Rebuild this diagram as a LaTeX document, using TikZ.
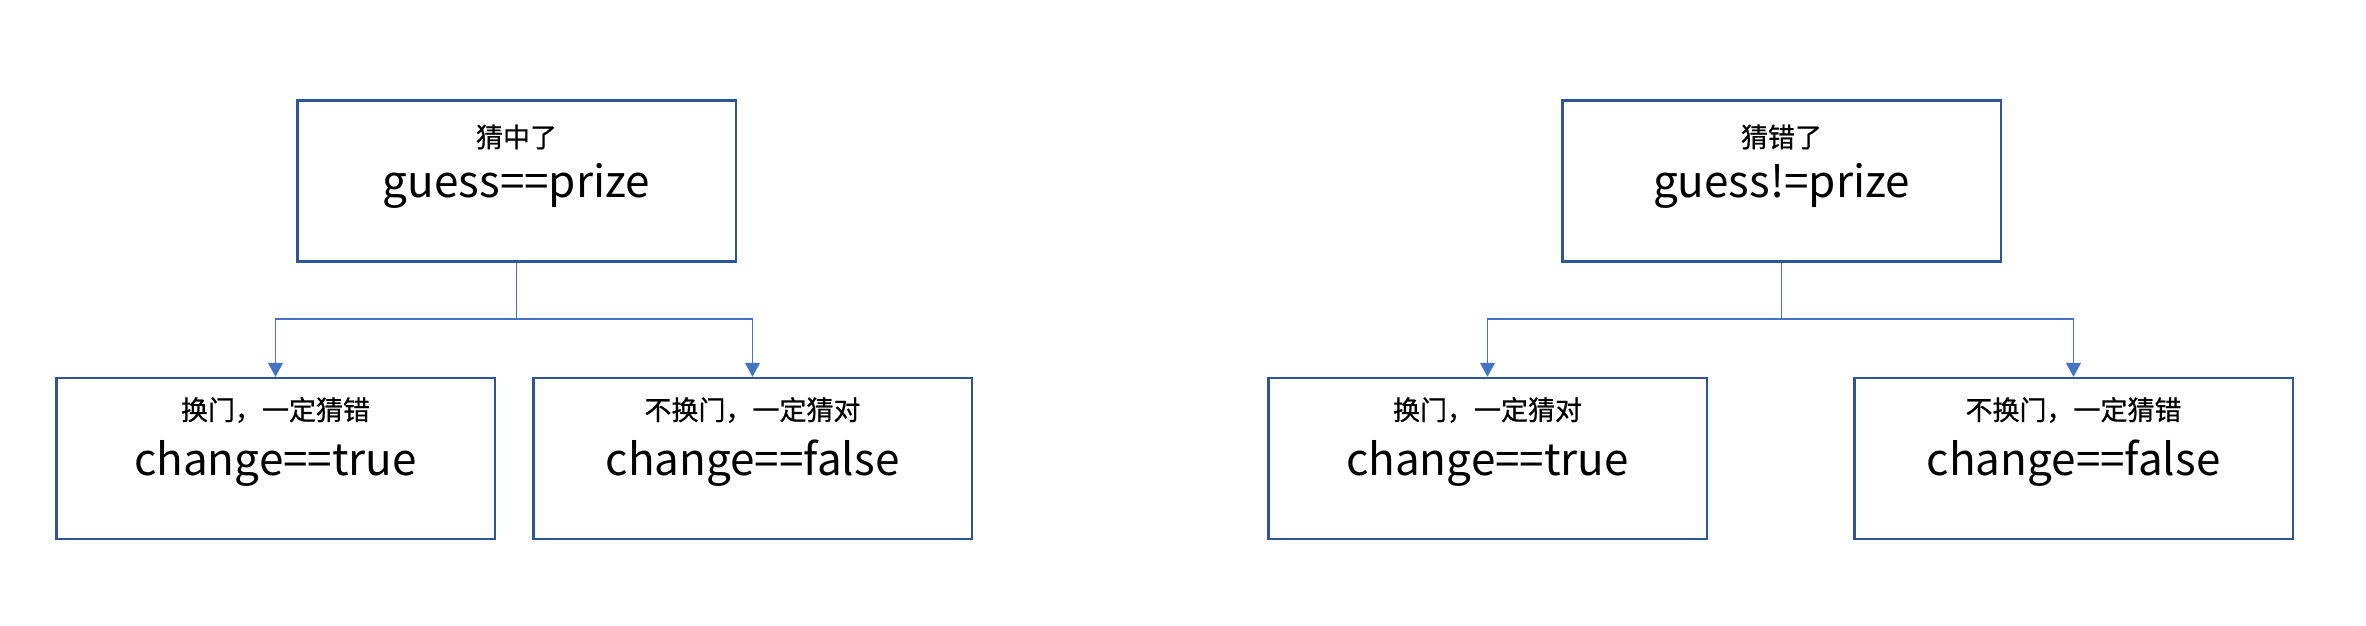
\documentclass[tikz,border=0pt]{standalone}
\usepackage{fontspec}
\setmainfont{Noto Sans CJK SC}
\newfontfamily\cjkb[FakeBold=0.6]{Noto Sans CJK SC}
\usetikzlibrary{arrows.meta}
\definecolor{boxblue}{HTML}{2F5597}
\definecolor{lineblue}{HTML}{4472C4}
\tikzset{
  stepbox/.style={draw=boxblue, line width=2.5pt, minimum width=438.5pt, minimum height=161pt, inner sep=0pt, fill=white},
  cntxt/.style={font=\cjkb\fontsize{27}{30}\selectfont, inner sep=0pt, anchor=center},
  lattxt/.style={font=\fontsize{44}{50}\selectfont, inner sep=0pt, anchor=base},
  conn/.style={draw=lineblue, line width=1.1pt},
  arr/.style={conn, -{Triangle[width=15pt,length=14pt]}}
}
\begin{document}
\begin{tikzpicture}[x=1pt,y=-1pt]
\useasboundingbox (0,0) rectangle (2366,625);
% boxes
\node[stepbox] (tl) at (516.5,181) {};
\node[stepbox] (bl1) at (275.5,458.5) {};
\node[stepbox] (bl2) at (752.5,458.5) {};
\node[stepbox] (tr) at (1781.5,181) {};
\node[stepbox] (br1) at (1487.5,458.5) {};
\node[stepbox] (br2) at (2073.5,458.5) {};
% texts
\node[cntxt] (tla) at (516.5,137) {猜中了};
\node[lattxt] (tlb) at (516.5,197) {guess==prize};
\node[cntxt] (bl1a) at (275.5,410) {换门，一定猜错};
\node[lattxt] (bl1b) at (275.5,475) {change==true};
\node[cntxt] (bl2a) at (752.5,410) {不换门，一定猜对};
\node[lattxt] (bl2b) at (752.5,475) {change==false};
\node[cntxt] (tra) at (1781.5,137) {猜错了};
\node[lattxt] (trb) at (1781.5,197) {guess!=prize};
\node[cntxt] (br1a) at (1487.5,410) {换门，一定猜对};
\node[lattxt] (br1b) at (1487.5,475) {change==true};
\node[cntxt] (br2a) at (2073.5,410) {不换门，一定猜错};
\node[lattxt] (br2b) at (2073.5,475) {change==false};
% connectors
\coordinate (jl) at (516.5,319);
\coordinate (jr) at (1781.5,319);
\draw[conn] (tl.south) -- (jl);
\draw[arr] (jl) -| (bl1.north);
\draw[arr] (jl) -| (bl2.north);
\draw[conn] (tr.south) -- (jr);
\draw[arr] (jr) -| (br1.north);
\draw[arr] (jr) -| (br2.north);
\end{tikzpicture}
\end{document}
